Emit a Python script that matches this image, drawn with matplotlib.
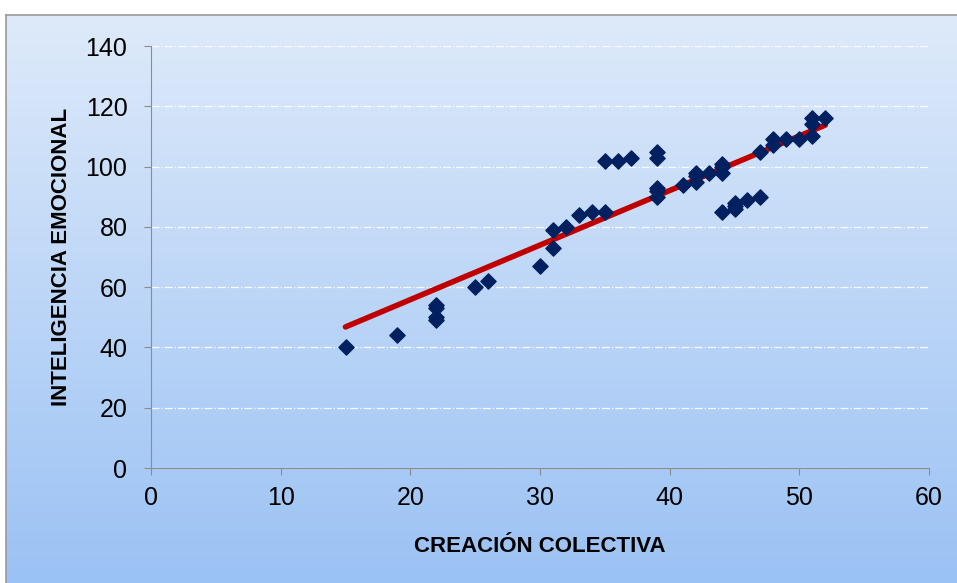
import matplotlib.pyplot as plt
import numpy as np

# scatter data
creacion = [15, 19, 22, 22, 22, 22, 25, 26, 30, 31, 31, 32, 33, 34, 35, 35, 36, 37,
            39, 39, 39, 39, 39, 41, 42, 42, 42, 43, 44, 44, 44, 44, 45, 45, 45, 46,
            47, 47, 48, 48, 49, 50, 51, 51, 51, 52]
inteligencia = [40, 44, 54, 53, 50, 49, 60, 62, 67, 79, 73, 80, 84, 85, 85, 102, 102, 103,
                105, 103, 93, 92, 90, 94, 98, 97, 95, 98, 101, 100, 98, 85, 88, 87, 86, 89,
                90, 105, 107, 109, 109, 109, 116, 114, 110, 116]
# linear trendline as drawn in the chart
trend_slope = 1.81
trend_intercept = 19.65
x_ticks = [0, 10, 20, 30, 40, 50, 60]
y_ticks = [0, 20, 40, 60, 80, 100, 120, 140]

plt.rcParams['font.family'] = ['Liberation Sans', 'DejaVu Sans']

fig = plt.figure(figsize=(9.57, 5.83), dpi=100)
fig.patch.set_facecolor('white')

# gradient chart background with grey border (light on top, blue at bottom)
bg = fig.add_axes([6 / 957, 0, 1 - 6 / 957, 1 - 15 / 583])
grad = np.linspace(0, 1, 256).reshape(-1, 1)
top = np.array([0xde, 0xea, 0xfa]) / 255
bot = np.array([0x9b, 0xc2, 0xf4]) / 255
img = top + (bot - top) * grad[:, :, None]
bg.imshow(img, aspect='auto', extent=[0, 1, 0, 1], origin='upper')
bg.set_xlim(0, 1)
bg.set_ylim(0, 1)
bg.set_xticks([])
bg.set_yticks([])
for side, s in bg.spines.items():
    s.set_color('#9a9a9a')
    s.set_linewidth(1.2)
    if side in ('right', 'bottom'):
        s.set_visible(False)

ax = fig.add_axes([151 / 957, 1 - 468 / 583, (929 - 151) / 957, (468 - 46) / 583])
ax.patch.set_alpha(0)

xs = np.array(creacion)
ys = np.array(inteligencia)
xl = np.array([xs.min(), xs.max()])
ax.plot(xl, trend_slope * xl + trend_intercept, color='#c00000', linewidth=4,
        solid_capstyle='round', zorder=2)
ax.scatter(xs, ys, marker='D', s=60, color='#002060', zorder=3)

ax.set_xlim(0, 60)
ax.set_ylim(0, 140)
ax.set_xticks(x_ticks)
ax.set_yticks(y_ticks)
ax.yaxis.grid(True, color='white', linestyle='-.', linewidth=0.9, alpha=0.9)
ax.set_axisbelow(True)
for side in ['top', 'right']:
    ax.spines[side].set_visible(False)
for side in ['left', 'bottom']:
    ax.spines[side].set_color('#8c8c8c')
ax.tick_params(colors='#8c8c8c', labelcolor='black', labelsize=18, length=5, direction='out')
ax.tick_params(axis='x', pad=8)
ax.tick_params(axis='y', pad=12)

ax.set_xlabel('CREACIÓN COLECTIVA', fontsize=16, fontweight='bold', labelpad=19)
ax.set_ylabel('INTELIGENCIA EMOCIONAL', fontsize=16, fontweight='bold', labelpad=10)

fig.savefig('out.png', dpi=100)
